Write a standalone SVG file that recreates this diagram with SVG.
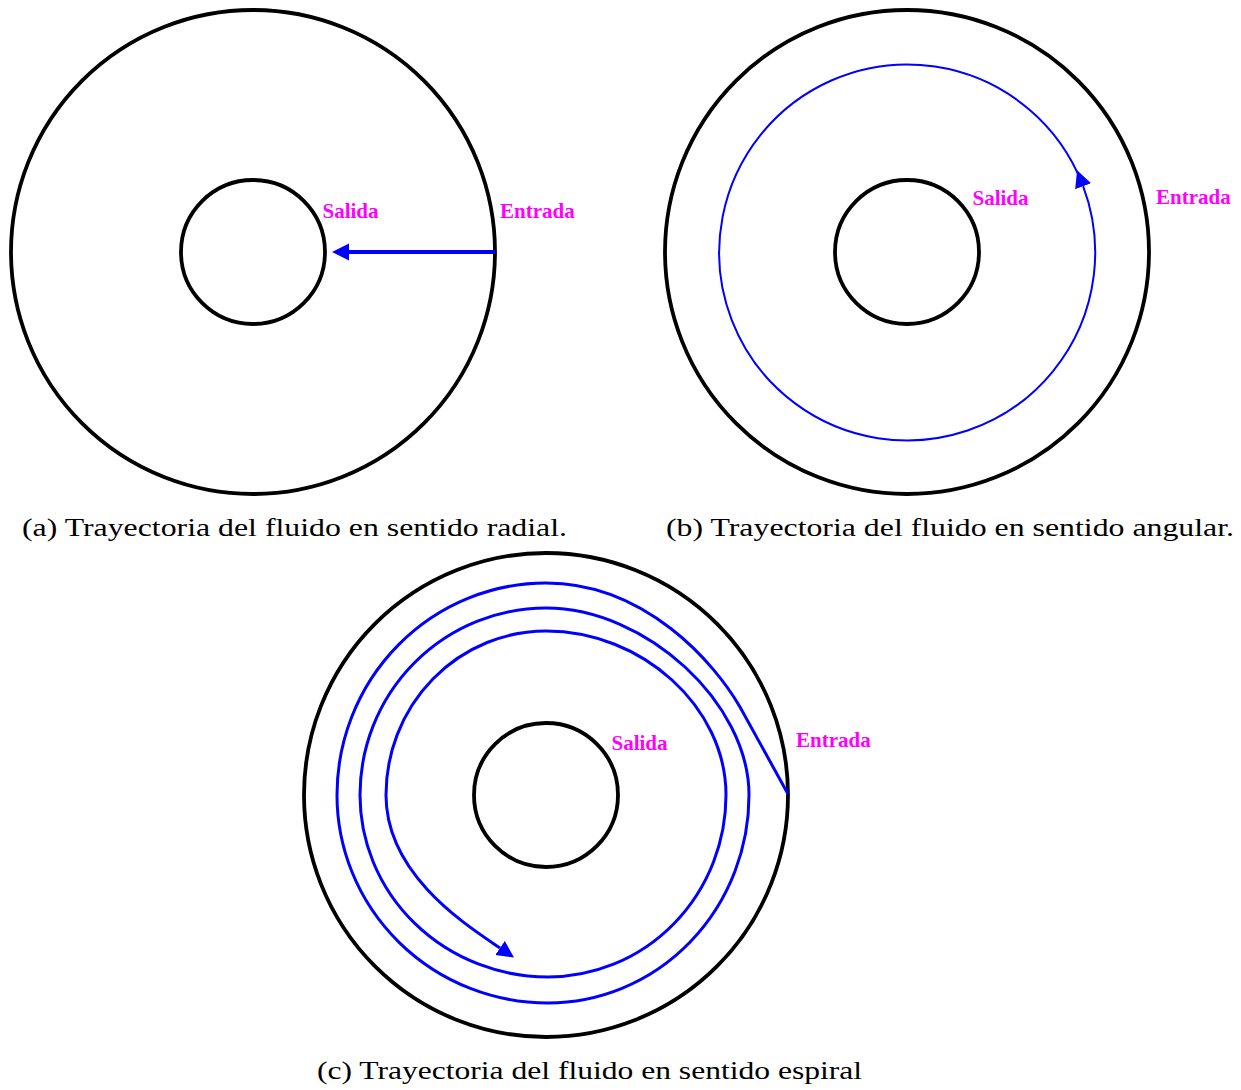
<svg xmlns="http://www.w3.org/2000/svg" width="1241" height="1090" viewBox="0 0 1241 1090">
  <style>
    .ring { fill: none; stroke: #000; stroke-width: 3.8; }
    .flow { fill: none; stroke: #0000ff; stroke-linejoin: round; }
    .lbl { font-family: "Liberation Serif", "Times New Roman", serif; font-weight: bold; font-size: 21px; fill: #ff00ff; }
    .cap { font-family: "Liberation Serif", "Times New Roman", serif; font-size: 24.5px; fill: #000; }
  </style>
  <defs>
    <marker id="ah" markerUnits="userSpaceOnUse" markerWidth="20" markerHeight="20" refX="0" refY="8.5" orient="auto">
      <path d="M0,0 L17,8.5 L0,17 z" fill="#0000ff"/>
    </marker>
  </defs>

  <g id="panel-a">
    <circle class="ring" cx="253" cy="252" r="242"/>
    <circle class="ring" cx="253" cy="252" r="72"/>
    <text class="lbl" x="322.5" y="217.5">Salida</text>
    <text class="lbl" x="500" y="217.5">Entrada</text>
    <text class="cap" x="22" y="536" textLength="545" lengthAdjust="spacingAndGlyphs">(a) Trayectoria del fluido en sentido radial.</text>
  </g>

  <g id="panel-b">
    <circle class="ring" cx="907" cy="252" r="242"/>
    <circle class="ring" cx="907" cy="252" r="72"/>
    <text class="lbl" x="972.5" y="205">Salida</text>
    <text class="lbl" x="1156" y="203.5">Entrada</text>
    <text class="cap" x="666" y="536" textLength="568" lengthAdjust="spacingAndGlyphs">(b) Trayectoria del fluido en sentido angular.</text>
  </g>

  <g id="panel-c">
    <circle class="ring" cx="546" cy="795" r="242"/>
    <circle class="ring" cx="546" cy="795" r="72"/>
    <text class="lbl" x="611.5" y="750">Salida</text>
    <text class="lbl" x="796" y="747">Entrada</text>
    <text class="cap" x="317" y="1079" textLength="545" lengthAdjust="spacingAndGlyphs">(c) Trayectoria del fluido en sentido espiral</text>
  </g>

  <g id="connectors">
    <path class="flow" stroke-width="4" d="M 495 252 L 349 252" marker-end="url(#ah)"/>
    <path class="flow" stroke-width="2" d="M 1081.9 183.1 A 188 188 0 1 0 1083.1 186.2" marker-end="url(#ah)"/>
    <path class="flow" stroke-width="3" marker-end="url(#ah)" d="M 788 794 L 740 707 C 715 663.7 646 583 546 583 A 209 212 0 0 0 337 795 A 211 208 0 0 0 548 1003 A 201 208 0 0 0 749 795 C 749 703 646 608 546 608 A 186 187 0 0 0 360 795 A 188 182 0 0 0 548 977 A 178 182 0 0 0 726 795 C 726 707 642 631 546 631 A 160 164 0 0 0 386 795 C 386 875 467 925.5 500 948"/>
  </g>
</svg>
